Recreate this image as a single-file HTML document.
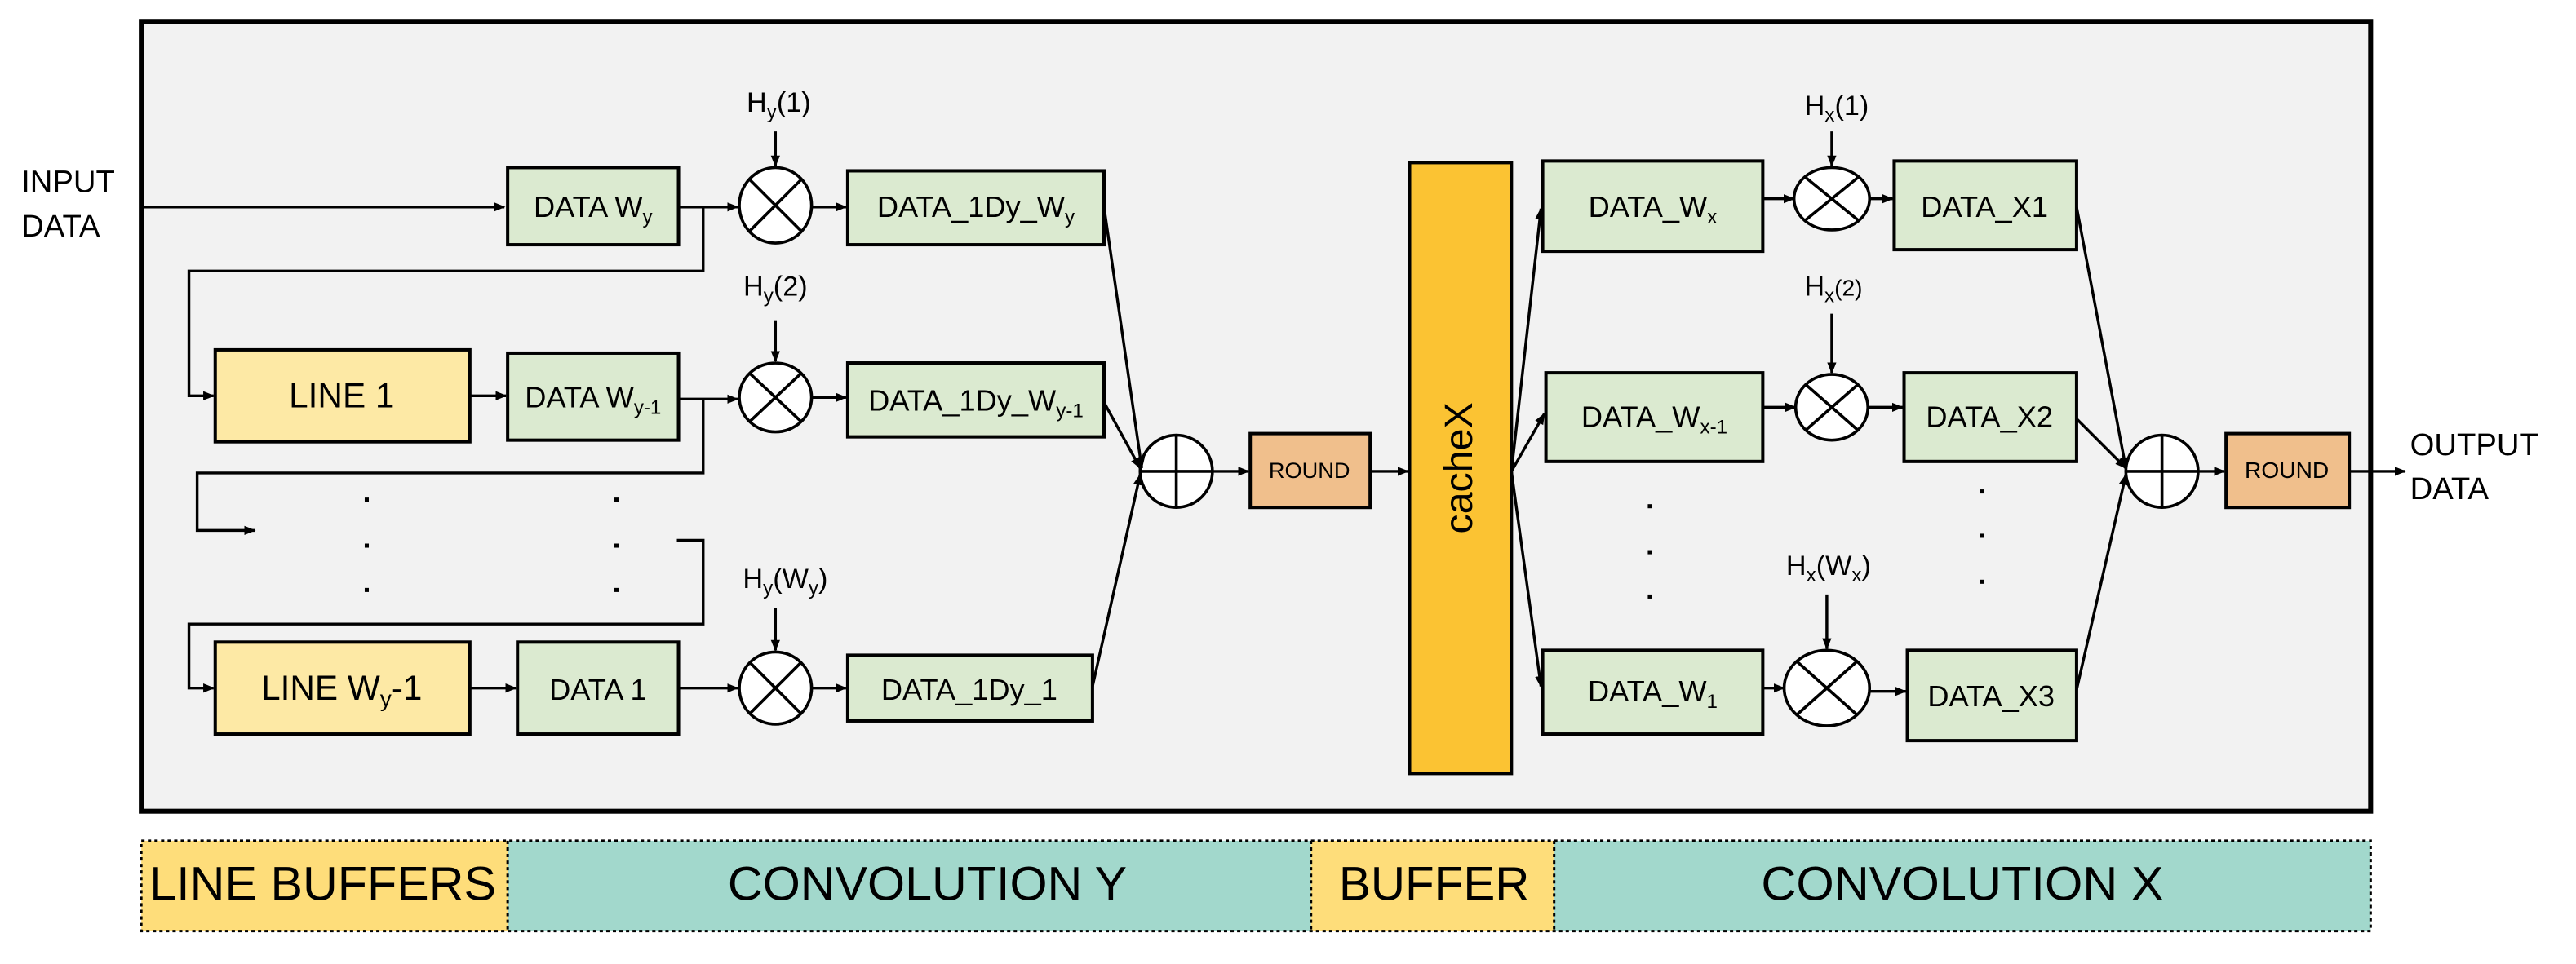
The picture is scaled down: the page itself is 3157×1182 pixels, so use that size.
<!DOCTYPE html>
<html><head><meta charset="utf-8"><style>
html,body{margin:0;padding:0;background:#fff;}
svg{display:block;}
text{font-family:"Liberation Sans",sans-serif;fill:#000;}
</style></head><body>
<svg width="3157" height="1182" viewBox="0 0 1568 587" xmlns="http://www.w3.org/2000/svg">
<defs>
<marker id="a" viewBox="0 0 10 10" refX="9" refY="5" markerWidth="7" markerHeight="7" markerUnits="userSpaceOnUse" orient="auto"><path d="M0,1 L10,5 L0,9 z" fill="#000"/></marker>
</defs>
<rect width="1568" height="587" fill="#fff"/>
<rect x="86" y="13" width="1357" height="481" fill="#f2f2f2" stroke="#000" stroke-width="3"/>

<rect x="86" y="512" width="223" height="55" fill="#fedd7a"/>
<rect x="309" y="512" width="489" height="55" fill="#a2d8cc"/>
<rect x="798" y="512" width="148" height="55" fill="#fedd7a"/>
<rect x="946" y="512" width="497" height="55" fill="#a2d8cc"/>
<g fill="none" stroke="#000" stroke-width="1.5" stroke-dasharray="2,2">
<rect x="86" y="512" width="1357" height="55"/>
<line x1="309" y1="512" x2="309" y2="567"/>
<line x1="798" y1="512" x2="798" y2="567"/>
<line x1="946" y1="512" x2="946" y2="567"/>
</g>
<text x="91" y="548" font-size="29" textLength="211" lengthAdjust="spacingAndGlyphs">LINE BUFFERS</text>
<text x="443" y="548" font-size="29" textLength="243" lengthAdjust="spacingAndGlyphs">CONVOLUTION Y</text>
<text x="815" y="548" font-size="29" textLength="116" lengthAdjust="spacingAndGlyphs">BUFFER</text>
<text x="1072" y="548" font-size="29" textLength="245" lengthAdjust="spacingAndGlyphs">CONVOLUTION X</text>

<text x="13" y="117" font-size="19">INPUT</text>
<text x="13" y="144" font-size="19">DATA</text>
<text x="1467" y="277" font-size="19">OUTPUT</text>
<text x="1467" y="304" font-size="19">DATA</text>

<g stroke="#000" stroke-width="2">
<rect x="309" y="102" width="104" height="47" fill="#dbead0"/>
<rect x="131" y="213" width="155" height="56" fill="#fde9a5"/>
<rect x="309" y="215" width="104" height="53" fill="#dbead0"/>
<rect x="131" y="391" width="155" height="56" fill="#fde9a5"/>
<rect x="315" y="391" width="98" height="56" fill="#dbead0"/>
<rect x="516" y="104" width="156" height="45" fill="#dbead0"/>
<rect x="516" y="221" width="156" height="45" fill="#dbead0"/>
<rect x="516" y="399" width="149" height="40" fill="#dbead0"/>
<rect x="761" y="264" width="73" height="45" fill="#f0bf8c"/>
<rect x="858" y="99" width="62" height="372" fill="#fbc333"/>
<rect x="939" y="98" width="134" height="55" fill="#dbead0"/>
<rect x="941" y="227" width="132" height="54" fill="#dbead0"/>
<rect x="939" y="396" width="134" height="51" fill="#dbead0"/>
<rect x="1153" y="98" width="111" height="54" fill="#dbead0"/>
<rect x="1159" y="227" width="105" height="54" fill="#dbead0"/>
<rect x="1161" y="396" width="103" height="55" fill="#dbead0"/>
<rect x="1355" y="264" width="75" height="45" fill="#f0bf8c"/>
</g>

<g font-size="18">
<text x="361" y="132" text-anchor="middle">DATA W<tspan font-size="12" dy="4">y</tspan></text>
<text x="208" y="248" text-anchor="middle" font-size="21">LINE 1</text>
<text x="361" y="248" text-anchor="middle">DATA W<tspan font-size="12" dy="4">y-1</tspan></text>
<text x="208" y="426" text-anchor="middle" font-size="21">LINE W<tspan font-size="14" dy="4">y</tspan><tspan dy="-4">-1</tspan></text>
<text x="364" y="426" text-anchor="middle">DATA 1</text>
<text x="594" y="132" text-anchor="middle">DATA_1Dy_W<tspan font-size="12" dy="4">y</tspan></text>
<text x="594" y="250" text-anchor="middle">DATA_1Dy_W<tspan font-size="12" dy="4">y-1</tspan></text>
<text x="590" y="426" text-anchor="middle">DATA_1Dy_1</text>
<text x="1006" y="132" text-anchor="middle">DATA_W<tspan font-size="12" dy="4">x</tspan></text>
<text x="1007" y="260" text-anchor="middle">DATA_W<tspan font-size="12" dy="4">x-1</tspan></text>
<text x="1006" y="427" text-anchor="middle">DATA_W<tspan font-size="12" dy="4">1</tspan></text>
<text x="1208" y="132" text-anchor="middle">DATA_X1</text>
<text x="1211" y="260" text-anchor="middle">DATA_X2</text>
<text x="1212" y="430" text-anchor="middle">DATA_X3</text>
</g>
<text x="797" y="291" text-anchor="middle" font-size="13.5">ROUND</text>
<text x="1392" y="291" text-anchor="middle" font-size="14">ROUND</text>
<text transform="translate(896,285) rotate(-90)" text-anchor="middle" font-size="24">cacheX</text>

<g font-size="17" text-anchor="middle">
<text x="474" y="68">H<tspan font-size="12" dy="4">y</tspan><tspan dy="-4">(1)</tspan></text>
<text x="472" y="180">H<tspan font-size="12" dy="4">y</tspan><tspan dy="-4">(2)</tspan></text>
<text x="478" y="358">H<tspan font-size="12" dy="4">y</tspan><tspan dy="-4">(W</tspan><tspan font-size="12" dy="4">y</tspan><tspan dy="-4">)</tspan></text>
<text x="1118" y="70">H<tspan font-size="12" dy="4">x</tspan><tspan dy="-4">(1)</tspan></text>
<text x="1116" y="180">H<tspan font-size="12" dy="4">x</tspan><tspan font-size="14" dy="-4">(2)</tspan></text>
<text x="1113" y="350">H<tspan font-size="12" dy="4">x</tspan><tspan dy="-4">(W</tspan><tspan font-size="12" dy="4">x</tspan><tspan dy="-4">)</tspan></text>
</g>

<g stroke="#000" stroke-width="1.8" fill="#fff">
<ellipse cx="472" cy="125" rx="22" ry="23"/>
<ellipse cx="472" cy="242" rx="22" ry="21"/>
<ellipse cx="472" cy="419" rx="22" ry="22"/>
<ellipse cx="1115" cy="121" rx="23" ry="19"/>
<ellipse cx="1115" cy="248" rx="22" ry="20"/>
<ellipse cx="1112" cy="419" rx="26" ry="23"/>
<circle cx="716" cy="287" r="22"/>
<circle cx="1316" cy="287" r="22"/>
</g>
<g stroke="#000" stroke-width="1.8">
<path d="M456,109 L488,141 M488,109 L456,141"/>
<path d="M456,227 L488,257 M488,227 L456,257"/>
<path d="M456,403 L488,435 M488,403 L456,435"/>
<path d="M1099,108 L1131,134 M1131,108 L1099,134"/>
<path d="M1099,234 L1131,262 M1131,234 L1099,262"/>
<path d="M1094,403 L1130,435 M1130,403 L1094,435"/>
<path d="M694,287 L738,287 M716,265 L716,309"/>
<path d="M1294,287 L1338,287 M1316,265 L1316,309"/>
</g>

<g stroke="#000" stroke-width="1.7" fill="none" marker-end="url(#a)">
<path d="M86,126 L307,126"/>
<path d="M413,126 L449,126"/>
<path d="M428,126 L428,165 L115,165 L115,241 L130,241"/>
<path d="M286,241 L308,241"/>
<path d="M413,243 L449,243"/>
<path d="M428,243 L428,288 L120,288 L120,323 L155,323"/>
<path d="M412,329 L428,329 L428,380 L115,380 L115,419 L130,419"/>
<path d="M286,419 L314,419"/>
<path d="M413,419 L449,419"/>
<path d="M472,80 L472,101"/>
<path d="M472,195 L472,220"/>
<path d="M472,370 L472,396"/>
<path d="M494,126 L515,126"/>
<path d="M494,242 L515,242"/>
<path d="M494,419 L515,419"/>
<path d="M672,126 L695,285"/>
<path d="M672,245 L694,285"/>
<path d="M665,418 L694,289"/>
<path d="M738,287 L760,287"/>
<path d="M834,287 L857,287"/>
<path d="M920,287 L938,127"/>
<path d="M920,287 L940,252"/>
<path d="M920,287 L938,418"/>
<path d="M1073,121 L1092,121"/>
<path d="M1073,248 L1093,248"/>
<path d="M1073,419 L1086,419"/>
<path d="M1115,80 L1115,101"/>
<path d="M1115,191 L1115,227"/>
<path d="M1112,362 L1112,395"/>
<path d="M1138,121 L1152,121"/>
<path d="M1137,248 L1158,248"/>
<path d="M1138,421 L1160,421"/>
<path d="M1264,126 L1294,285"/>
<path d="M1264,255 L1294,285"/>
<path d="M1264,420 L1294,289"/>
<path d="M1338,287 L1354,287"/>
<path d="M1430,287 L1464,287"/>
</g>

<g fill="#000">
<rect x="222" y="303" width="2.5" height="2.5"/><rect x="222" y="331" width="2.5" height="2.5"/><rect x="222" y="358" width="2.5" height="2.5"/>
<rect x="374" y="303" width="2.5" height="2.5"/><rect x="374" y="331" width="2.5" height="2.5"/><rect x="374" y="358" width="2.5" height="2.5"/>
<rect x="1003" y="307" width="2.5" height="2.5"/><rect x="1003" y="335" width="2.5" height="2.5"/><rect x="1003" y="362" width="2.5" height="2.5"/>
<rect x="1205" y="298" width="2.5" height="2.5"/><rect x="1205" y="325" width="2.5" height="2.5"/><rect x="1205" y="353" width="2.5" height="2.5"/>
</g>
</svg>
</body></html>
